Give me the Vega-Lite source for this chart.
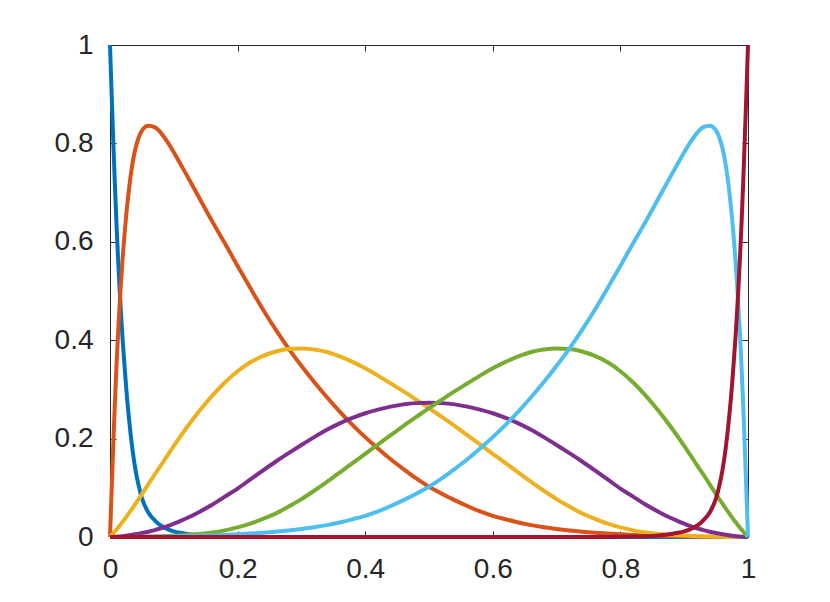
{
  "$schema": "https://vega.github.io/schema/vega-lite/v6.json",
  "width": 638,
  "height": 492,
  "autosize": "none",
  "padding": {"left": 110, "top": 45, "right": 82, "bottom": 65},
  "background": "white",
  "config": {
    "view": {"stroke": null},
    "axis": {
      "domainColor": "#262626",
      "tickColor": "#262626",
      "labelColor": "#262626",
      "labelFont": "Liberation Sans",
      "labelFontSize": 28,
      "grid": false,
      "domainWidth": 1,
      "tickWidth": 1,
      "labelFlush": false
    }
  },
  "data": {
    "values": [
      {"x": 0, "B0": 1, "B1": 0, "B2": 0, "B3": 0, "B4": 0, "B5": 0, "B6": 0},
      {"x": 0.0025, "B0": 0.903, "B1": 0.093, "B2": 0.0037, "B3": 0.0001, "B4": 0, "B5": 0, "B6": 0},
      {"x": 0.005, "B0": 0.81, "B1": 0.183, "B2": 0.0075, "B3": 0.0002, "B4": 0, "B5": 0, "B6": 0},
      {"x": 0.0075, "B0": 0.722, "B1": 0.267, "B2": 0.011, "B3": 0.0004, "B4": 0, "B5": 0, "B6": 0},
      {"x": 0.01, "B0": 0.641, "B1": 0.343, "B2": 0.015, "B3": 0.0006, "B4": 0, "B5": 0, "B6": 0},
      {"x": 0.0125, "B0": 0.57, "B1": 0.41, "B2": 0.019, "B3": 0.0008, "B4": 0, "B5": 0, "B6": 0},
      {"x": 0.015, "B0": 0.506, "B1": 0.47, "B2": 0.023, "B3": 0.0011, "B4": 0, "B5": 0, "B6": 0},
      {"x": 0.0175, "B0": 0.449, "B1": 0.523, "B2": 0.027, "B3": 0.0014, "B4": 0, "B5": 0, "B6": 0},
      {"x": 0.02, "B0": 0.397, "B1": 0.57, "B2": 0.031, "B3": 0.0018, "B4": 0, "B5": 0, "B6": 0},
      {"x": 0.025, "B0": 0.309, "B1": 0.648, "B2": 0.04, "B3": 0.0026, "B4": 0, "B5": 0, "B6": 0},
      {"x": 0.03, "B0": 0.2375, "B1": 0.71, "B2": 0.049, "B3": 0.0035, "B4": 0.0001, "B5": 0, "B6": 0},
      {"x": 0.035, "B0": 0.18, "B1": 0.757, "B2": 0.058, "B3": 0.0045, "B4": 0.0002, "B5": 0, "B6": 0},
      {"x": 0.04, "B0": 0.136, "B1": 0.79, "B2": 0.068, "B3": 0.0056, "B4": 0.0003, "B5": 0.0001, "B6": 0},
      {"x": 0.045, "B0": 0.104, "B1": 0.812, "B2": 0.077, "B3": 0.0068, "B4": 0.0004, "B5": 0.0001, "B6": 0},
      {"x": 0.05, "B0": 0.079, "B1": 0.826, "B2": 0.087, "B3": 0.008, "B4": 0.0005, "B5": 0.0002, "B6": 0},
      {"x": 0.06, "B0": 0.05, "B1": 0.836, "B2": 0.107, "B3": 0.0108, "B4": 0.0008, "B5": 0.0003, "B6": 0},
      {"x": 0.07, "B0": 0.034, "B1": 0.833, "B2": 0.127, "B3": 0.014, "B4": 0.0012, "B5": 0.0005, "B6": 0},
      {"x": 0.08, "B0": 0.023, "B1": 0.821, "B2": 0.146, "B3": 0.0178, "B4": 0.0016, "B5": 0.0007, "B6": 0},
      {"x": 0.09, "B0": 0.016, "B1": 0.803, "B2": 0.166, "B3": 0.022, "B4": 0.0022, "B5": 0.0009, "B6": 0},
      {"x": 0.1, "B0": 0.0115, "B1": 0.782, "B2": 0.185, "B3": 0.027, "B4": 0.0028, "B5": 0.0012, "B6": 0},
      {"x": 0.11, "B0": 0.0085, "B1": 0.759, "B2": 0.204, "B3": 0.0323, "B4": 0.0034, "B5": 0.0015, "B6": 0},
      {"x": 0.12, "B0": 0.0062, "B1": 0.736, "B2": 0.222, "B3": 0.038, "B4": 0.004, "B5": 0.0018, "B6": 0},
      {"x": 0.14, "B0": 0.0032, "B1": 0.689, "B2": 0.256, "B3": 0.051, "B4": 0.006, "B5": 0.0025, "B6": 0},
      {"x": 0.16, "B0": 0.0016, "B1": 0.642, "B2": 0.287, "B3": 0.0655, "B4": 0.009, "B5": 0.0033, "B6": 0},
      {"x": 0.18, "B0": 0.0008, "B1": 0.597, "B2": 0.314, "B3": 0.082, "B4": 0.0135, "B5": 0.0043, "B6": 0},
      {"x": 0.2, "B0": 0.0004, "B1": 0.551, "B2": 0.337, "B3": 0.0985, "B4": 0.0195, "B5": 0.0055, "B6": 0},
      {"x": 0.22, "B0": 0.0002, "B1": 0.506, "B2": 0.355, "B3": 0.117, "B4": 0.027, "B5": 0.0069, "B6": 0},
      {"x": 0.24, "B0": 0.0001, "B1": 0.462, "B2": 0.368, "B3": 0.1355, "B4": 0.037, "B5": 0.0086, "B6": 0},
      {"x": 0.26, "B0": 0, "B1": 0.421, "B2": 0.377, "B3": 0.1535, "B4": 0.048, "B5": 0.0107, "B6": 0},
      {"x": 0.28, "B0": 0, "B1": 0.383, "B2": 0.382, "B3": 0.1705, "B4": 0.062, "B5": 0.0132, "B6": 0},
      {"x": 0.3, "B0": 0, "B1": 0.348, "B2": 0.383, "B3": 0.187, "B4": 0.077, "B5": 0.0162, "B6": 0},
      {"x": 0.32, "B0": 0, "B1": 0.315, "B2": 0.381, "B3": 0.203, "B4": 0.094, "B5": 0.0198, "B6": 0},
      {"x": 0.34, "B0": 0, "B1": 0.284, "B2": 0.376, "B3": 0.218, "B4": 0.112, "B5": 0.0242, "B6": 0},
      {"x": 0.36, "B0": 0, "B1": 0.255, "B2": 0.367, "B3": 0.231, "B4": 0.131, "B5": 0.0295, "B6": 0},
      {"x": 0.38, "B0": 0, "B1": 0.228, "B2": 0.356, "B3": 0.242, "B4": 0.15, "B5": 0.036, "B6": 0},
      {"x": 0.4, "B0": 0, "B1": 0.203, "B2": 0.343, "B3": 0.2515, "B4": 0.169, "B5": 0.043, "B6": 0},
      {"x": 0.42, "B0": 0, "B1": 0.18, "B2": 0.328, "B3": 0.259, "B4": 0.188, "B5": 0.052, "B6": 0},
      {"x": 0.44, "B0": 0, "B1": 0.158, "B2": 0.312, "B3": 0.265, "B4": 0.207, "B5": 0.063, "B6": 0},
      {"x": 0.46, "B0": 0, "B1": 0.138, "B2": 0.296, "B3": 0.2696, "B4": 0.226, "B5": 0.075, "B6": 0},
      {"x": 0.48, "B0": 0, "B1": 0.119, "B2": 0.279, "B3": 0.2721, "B4": 0.244, "B5": 0.088, "B6": 0},
      {"x": 0.5, "B0": 0, "B1": 0.102, "B2": 0.262, "B3": 0.273, "B4": 0.262, "B5": 0.102, "B6": 0},
      {"x": 0.52, "B0": 0, "B1": 0.088, "B2": 0.244, "B3": 0.2721, "B4": 0.279, "B5": 0.119, "B6": 0},
      {"x": 0.54, "B0": 0, "B1": 0.075, "B2": 0.226, "B3": 0.2696, "B4": 0.296, "B5": 0.138, "B6": 0},
      {"x": 0.56, "B0": 0, "B1": 0.063, "B2": 0.207, "B3": 0.265, "B4": 0.312, "B5": 0.158, "B6": 0},
      {"x": 0.58, "B0": 0, "B1": 0.052, "B2": 0.188, "B3": 0.259, "B4": 0.328, "B5": 0.18, "B6": 0},
      {"x": 0.6, "B0": 0, "B1": 0.043, "B2": 0.169, "B3": 0.2515, "B4": 0.343, "B5": 0.203, "B6": 0},
      {"x": 0.62, "B0": 0, "B1": 0.036, "B2": 0.15, "B3": 0.242, "B4": 0.356, "B5": 0.228, "B6": 0},
      {"x": 0.64, "B0": 0, "B1": 0.0295, "B2": 0.131, "B3": 0.231, "B4": 0.367, "B5": 0.255, "B6": 0},
      {"x": 0.66, "B0": 0, "B1": 0.0242, "B2": 0.112, "B3": 0.218, "B4": 0.376, "B5": 0.284, "B6": 0},
      {"x": 0.68, "B0": 0, "B1": 0.0198, "B2": 0.094, "B3": 0.203, "B4": 0.381, "B5": 0.315, "B6": 0},
      {"x": 0.7, "B0": 0, "B1": 0.0162, "B2": 0.077, "B3": 0.187, "B4": 0.383, "B5": 0.348, "B6": 0},
      {"x": 0.72, "B0": 0, "B1": 0.0132, "B2": 0.062, "B3": 0.1705, "B4": 0.382, "B5": 0.383, "B6": 0},
      {"x": 0.74, "B0": 0, "B1": 0.0107, "B2": 0.048, "B3": 0.1535, "B4": 0.377, "B5": 0.421, "B6": 0},
      {"x": 0.76, "B0": 0, "B1": 0.0086, "B2": 0.037, "B3": 0.1355, "B4": 0.368, "B5": 0.462, "B6": 0.0001},
      {"x": 0.78, "B0": 0, "B1": 0.0069, "B2": 0.027, "B3": 0.117, "B4": 0.355, "B5": 0.506, "B6": 0.0002},
      {"x": 0.8, "B0": 0, "B1": 0.0055, "B2": 0.0195, "B3": 0.0985, "B4": 0.337, "B5": 0.551, "B6": 0.0004},
      {"x": 0.82, "B0": 0, "B1": 0.0043, "B2": 0.0135, "B3": 0.082, "B4": 0.314, "B5": 0.597, "B6": 0.0008},
      {"x": 0.84, "B0": 0, "B1": 0.0033, "B2": 0.009, "B3": 0.0655, "B4": 0.287, "B5": 0.642, "B6": 0.0016},
      {"x": 0.86, "B0": 0, "B1": 0.0025, "B2": 0.006, "B3": 0.051, "B4": 0.256, "B5": 0.689, "B6": 0.0032},
      {"x": 0.88, "B0": 0, "B1": 0.0018, "B2": 0.004, "B3": 0.038, "B4": 0.222, "B5": 0.736, "B6": 0.0062},
      {"x": 0.89, "B0": 0, "B1": 0.0015, "B2": 0.0034, "B3": 0.0323, "B4": 0.204, "B5": 0.759, "B6": 0.0085},
      {"x": 0.9, "B0": 0, "B1": 0.0012, "B2": 0.0028, "B3": 0.027, "B4": 0.185, "B5": 0.782, "B6": 0.0115},
      {"x": 0.91, "B0": 0, "B1": 0.0009, "B2": 0.0022, "B3": 0.022, "B4": 0.166, "B5": 0.803, "B6": 0.016},
      {"x": 0.92, "B0": 0, "B1": 0.0007, "B2": 0.0016, "B3": 0.0178, "B4": 0.146, "B5": 0.821, "B6": 0.023},
      {"x": 0.93, "B0": 0, "B1": 0.0005, "B2": 0.0012, "B3": 0.014, "B4": 0.127, "B5": 0.833, "B6": 0.034},
      {"x": 0.94, "B0": 0, "B1": 0.0003, "B2": 0.0008, "B3": 0.0108, "B4": 0.107, "B5": 0.836, "B6": 0.05},
      {"x": 0.95, "B0": 0, "B1": 0.0002, "B2": 0.0005, "B3": 0.008, "B4": 0.087, "B5": 0.826, "B6": 0.079},
      {"x": 0.955, "B0": 0, "B1": 0.0001, "B2": 0.0004, "B3": 0.0068, "B4": 0.077, "B5": 0.812, "B6": 0.104},
      {"x": 0.96, "B0": 0, "B1": 0.0001, "B2": 0.0003, "B3": 0.0056, "B4": 0.068, "B5": 0.79, "B6": 0.136},
      {"x": 0.965, "B0": 0, "B1": 0, "B2": 0.0002, "B3": 0.0045, "B4": 0.058, "B5": 0.757, "B6": 0.18},
      {"x": 0.97, "B0": 0, "B1": 0, "B2": 0.0001, "B3": 0.0035, "B4": 0.049, "B5": 0.71, "B6": 0.2375},
      {"x": 0.975, "B0": 0, "B1": 0, "B2": 0, "B3": 0.0026, "B4": 0.04, "B5": 0.648, "B6": 0.309},
      {"x": 0.98, "B0": 0, "B1": 0, "B2": 0, "B3": 0.0018, "B4": 0.031, "B5": 0.57, "B6": 0.397},
      {"x": 0.9825, "B0": 0, "B1": 0, "B2": 0, "B3": 0.0014, "B4": 0.027, "B5": 0.523, "B6": 0.449},
      {"x": 0.985, "B0": 0, "B1": 0, "B2": 0, "B3": 0.0011, "B4": 0.023, "B5": 0.47, "B6": 0.506},
      {"x": 0.9875, "B0": 0, "B1": 0, "B2": 0, "B3": 0.0008, "B4": 0.019, "B5": 0.41, "B6": 0.57},
      {"x": 0.99, "B0": 0, "B1": 0, "B2": 0, "B3": 0.0006, "B4": 0.015, "B5": 0.343, "B6": 0.641},
      {"x": 0.9925, "B0": 0, "B1": 0, "B2": 0, "B3": 0.0004, "B4": 0.011, "B5": 0.267, "B6": 0.722},
      {"x": 0.995, "B0": 0, "B1": 0, "B2": 0, "B3": 0.0002, "B4": 0.0075, "B5": 0.183, "B6": 0.81},
      {"x": 0.9975, "B0": 0, "B1": 0, "B2": 0, "B3": 0.0001, "B4": 0.0037, "B5": 0.093, "B6": 0.903},
      {"x": 1, "B0": 0, "B1": 0, "B2": 0, "B3": 0, "B4": 0, "B5": 0, "B6": 1}
    ]
  },
  "transform": [
    {"fold": ["B0", "B1", "B2", "B3", "B4", "B5", "B6"], "as": ["series", "value"]}
  ],
  "resolve": {"axis": {"x": "independent", "y": "independent"}},
  "layer": [
    {
      "mark": {"type": "line", "strokeWidth": 4, "strokeJoin": "round", "strokeCap": "butt", "interpolate": "monotone"},
      "encoding": {
        "x": {
          "field": "x", "type": "quantitative",
          "scale": {"domain": [0, 1], "nice": false},
          "axis": {"orient": "bottom", "values": [0, 0.2, 0.4, 0.6, 0.8, 1], "format": "~g", "tickSize": -6, "labelPadding": 24, "title": null}
        },
        "y": {
          "field": "value", "type": "quantitative",
          "scale": {"domain": [0, 1], "nice": false},
          "axis": {"orient": "left", "values": [0, 0.2, 0.4, 0.6, 0.8, 1], "format": "~g", "tickSize": -6, "labelPadding": 23, "title": null}
        },
        "color": {
          "field": "series", "type": "nominal",
          "scale": {"domain": ["B0", "B1", "B2", "B3", "B4", "B5", "B6"], "range": ["#0072BD", "#D95319", "#EDB120", "#7E2F8E", "#77AC30", "#4DBEEE", "#A2142F"]},
          "legend": null
        }
      }
    },
    {
      "mark": {"type": "line", "opacity": 0},
      "encoding": {
        "x": {
          "field": "x", "type": "quantitative",
          "axis": {"orient": "top", "values": [0, 0.2, 0.4, 0.6, 0.8, 1], "labels": false, "tickSize": -6, "title": null}
        },
        "y": {
          "field": "value", "type": "quantitative",
          "axis": {"orient": "right", "values": [0, 0.2, 0.4, 0.6, 0.8, 1], "labels": false, "tickSize": -6, "title": null}
        },
        "detail": {"field": "series"}
      }
    }
  ]
}
